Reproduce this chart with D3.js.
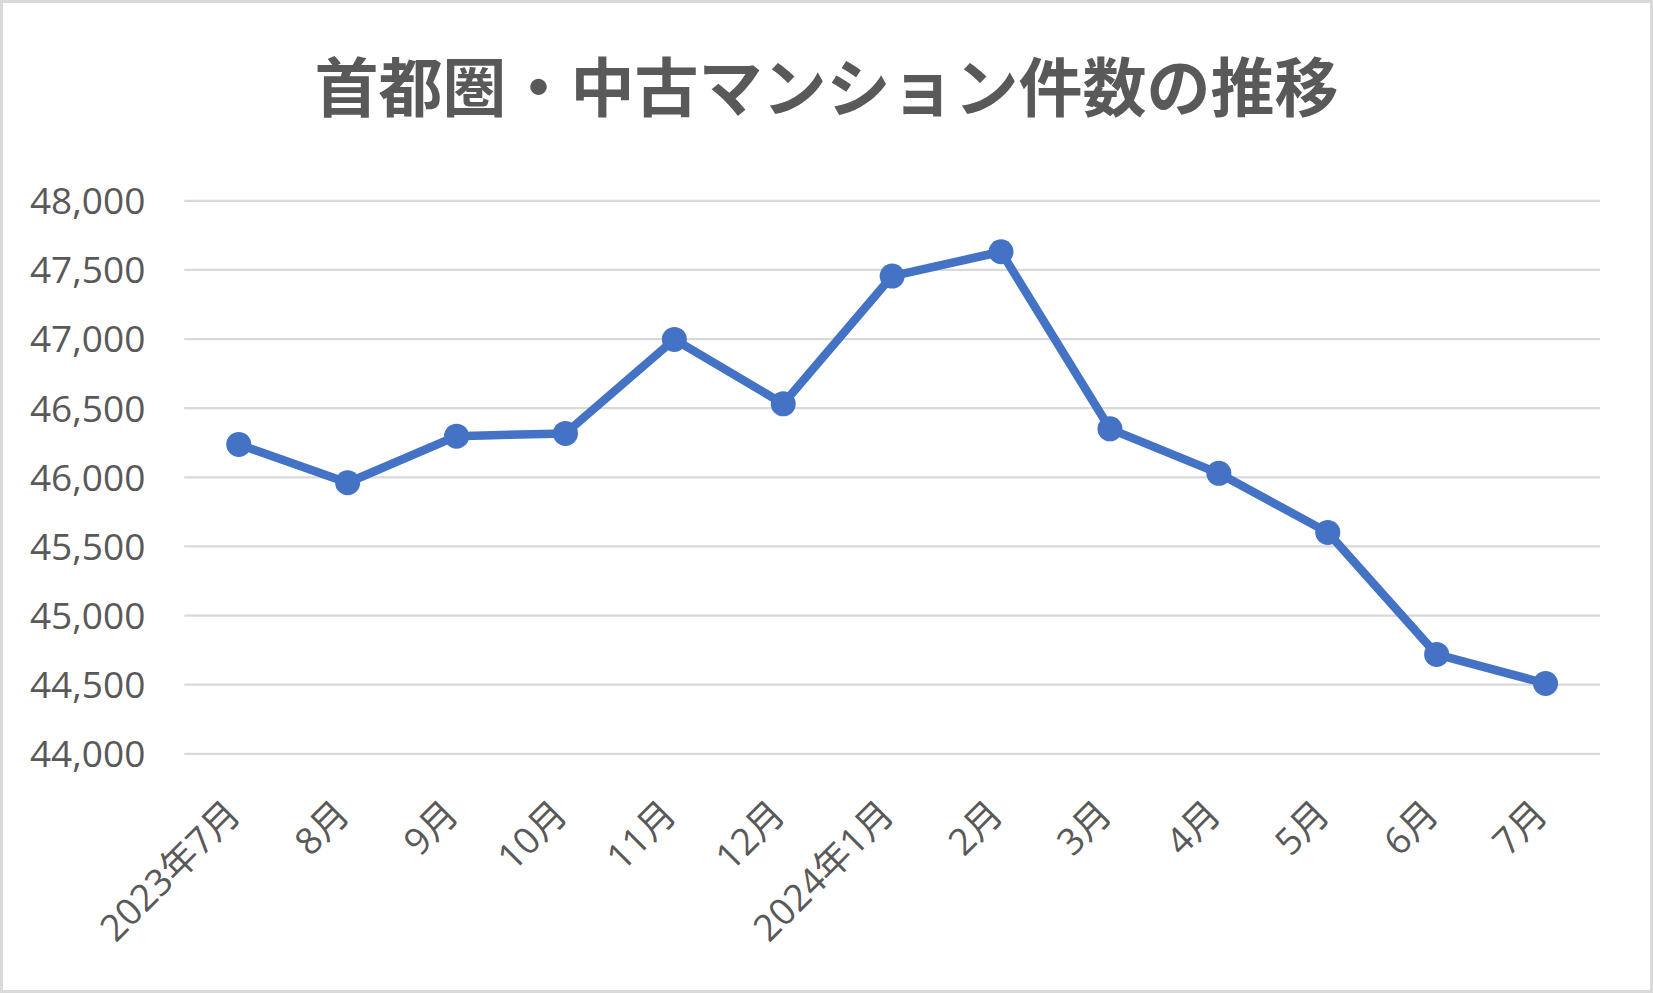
<!DOCTYPE html>
<html>
<head>
<meta charset="utf-8">
<script src="https://cdn.jsdelivr.net/npm/d3@7"></script>
<style>
  html, body { margin: 0; padding: 0; background: #fff; }
  svg { display: block; }
  text { font-family: "Open Sans", "Noto Sans CJK JP", sans-serif; }
</style>
</head>
<body>
<svg id="chart" width="1653" height="993"></svg>
<script>
const title = "首都圏・中古マンション件数の推移";
const categories = ["2023年7月","8月","9月","10月","11月","12月","2024年1月","2月","3月","4月","5月","6月","7月"];
const values = [46234, 45957, 46294, 46314, 46994, 46528, 47452, 47628, 46347, 46025, 45598, 44715, 44505];
const yTicks = [44000, 44500, 45000, 45500, 46000, 46500, 47000, 47500, 48000];

const W = 1653, H = 993;
const margin = {left: 184.3, right: 53, top: 200.3, bottom: 239.7};
const iw = W - margin.left - margin.right;
const ih = H - margin.top - margin.bottom;

const svg = d3.select("#chart");

svg.append("rect")
  .attr("x", 1.5).attr("y", 1.5)
  .attr("width", W - 3).attr("height", H - 3)
  .attr("fill", "#fff").attr("stroke", "#d9d9d9").attr("stroke-width", 3);

svg.append("text")
  .attr("x", W / 2).attr("y", 111)
  .attr("text-anchor", "middle")
  .attr("fill", "#595959")
  .style("font-family", "'Noto Sans CJK JP', sans-serif")
  .style("font-weight", "700")
  .style("font-size", "64px")
  .text(title);

const g = svg.append("g").attr("transform", `translate(${margin.left},${margin.top})`);

const x = d3.scaleBand().domain(categories).range([0, iw]).padding(0);
const y = d3.scaleLinear().domain([44000, 48000]).range([ih, 0]);

const yAxis = g.append("g")
  .call(d3.axisLeft(y).tickValues(yTicks).tickSize(-iw).tickPadding(39)
    .tickFormat(d3.format(",")));
yAxis.select(".domain").remove();
yAxis.selectAll(".tick line").attr("stroke", "#d9d9d9").attr("stroke-width", 2.2);
yAxis.selectAll(".tick text")
  .attr("fill", "#595959")
  .attr("dy", "0.36em")
  .style("font-size", "37px");

const xAxis = g.append("g")
  .attr("transform", `translate(0,${ih})`)
  .call(d3.axisBottom(x).tickSize(0).tickPadding(0));
xAxis.select(".domain").remove();
xAxis.selectAll(".tick text")
  .attr("fill", "#595959")
  .attr("text-anchor", "end")
  .attr("dy", null)
  .attr("y", null)
  .attr("transform", "translate(4,63) rotate(-45)")
  .style("font-size", "37px");

const line = d3.line()
  .x((d, i) => x(categories[i]) + x.bandwidth() / 2)
  .y(d => y(d));

g.append("path")
  .datum(values)
  .attr("fill", "none")
  .attr("stroke", "#4472c4")
  .attr("stroke-width", 8.5)
  .attr("stroke-linejoin", "round")
  .attr("d", line);

g.selectAll("circle.pt")
  .data(values)
  .enter().append("circle")
  .attr("class", "pt")
  .attr("cx", (d, i) => x(categories[i]) + x.bandwidth() / 2)
  .attr("cy", d => y(d))
  .attr("r", 12.5)
  .attr("fill", "#4472c4");
</script>
</body>
</html>
